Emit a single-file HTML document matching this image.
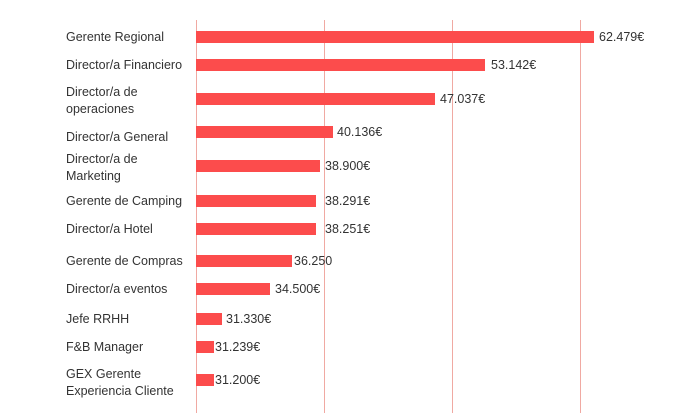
<!DOCTYPE html>
<html><head><meta charset="utf-8"><style>
body{margin:0;width:700px;height:413px;background:#fff;overflow:hidden;position:relative;font-family:"Liberation Sans",sans-serif;color:#333;font-size:12.5px}
.g{position:absolute;top:20px;bottom:0;width:1px;background:#f0a9a2}
.b{position:absolute;left:196px;height:12px;background:#fc4c4c}
.v{position:absolute;line-height:14px}
.l{position:absolute;left:66px;line-height:17px}
</style></head><body>
<div class="g" style="left:196px"></div><div class="g" style="left:324px"></div><div class="g" style="left:452px"></div><div class="g" style="left:580px"></div>
<div class="l" style="top:29px">Gerente Regional</div>
<div class="l" style="top:57px">Director/a Financiero</div>
<div class="l" style="top:84px">Director/a de<br>operaciones</div>
<div class="l" style="top:129px">Director/a General</div>
<div class="l" style="top:151px">Director/a de<br>Marketing</div>
<div class="l" style="top:193px">Gerente de Camping</div>
<div class="l" style="top:221px">Director/a Hotel</div>
<div class="l" style="top:253px">Gerente de Compras</div>
<div class="l" style="top:281px">Director/a eventos</div>
<div class="l" style="top:311px">Jefe RRHH</div>
<div class="l" style="top:339px">F&amp;B Manager</div>
<div class="l" style="top:366px">GEX Gerente<br>Experiencia Cliente</div>
<div class="b" style="top:31px;width:398px"></div><div class="v" style="top:30px;left:599px">62.479€</div>
<div class="b" style="top:59px;width:289px"></div><div class="v" style="top:58px;left:491px">53.142€</div>
<div class="b" style="top:93px;width:239px"></div><div class="v" style="top:92px;left:440px">47.037€</div>
<div class="b" style="top:126px;width:137px"></div><div class="v" style="top:125px;left:337px">40.136€</div>
<div class="b" style="top:160px;width:124px"></div><div class="v" style="top:159px;left:325px">38.900€</div>
<div class="b" style="top:195px;width:120px"></div><div class="v" style="top:194px;left:325px">38.291€</div>
<div class="b" style="top:223px;width:120px"></div><div class="v" style="top:222px;left:325px">38.251€</div>
<div class="b" style="top:255px;width:96px"></div><div class="v" style="top:254px;left:294px">36.250</div>
<div class="b" style="top:283px;width:74px"></div><div class="v" style="top:282px;left:275px">34.500€</div>
<div class="b" style="top:313px;width:26px"></div><div class="v" style="top:312px;left:226px">31.330€</div>
<div class="b" style="top:341px;width:18px"></div><div class="v" style="top:340px;left:215px">31.239€</div>
<div class="b" style="top:374px;width:18px"></div><div class="v" style="top:373px;left:215px">31.200€</div>
</body></html>
